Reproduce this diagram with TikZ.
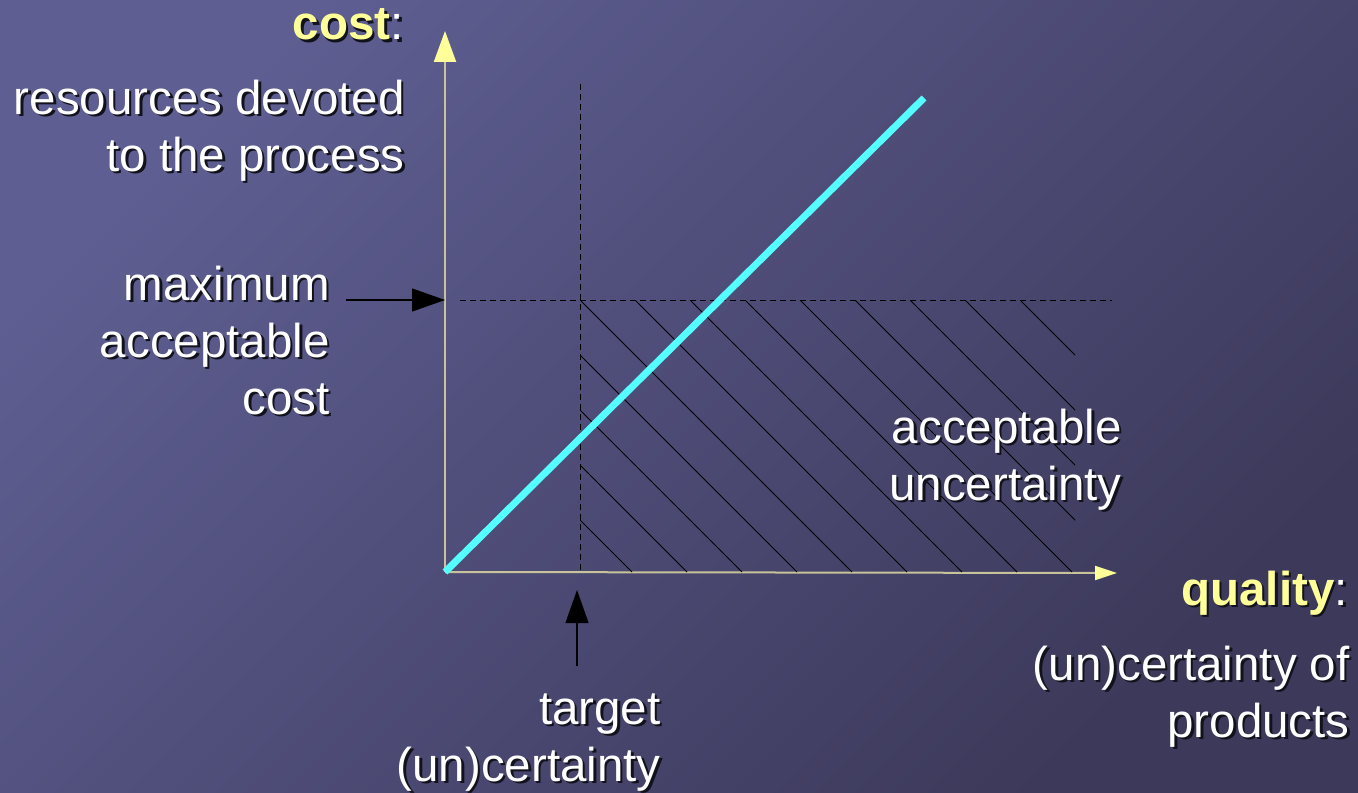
\documentclass[tikz,border=0pt]{standalone}
\usepackage{fontspec}
\setmainfont{Liberation Sans}
\usetikzlibrary{arrows.meta}
\definecolor{bgtl}{RGB}{94,94,146}
\definecolor{bgbr}{RGB}{60,57,90}
\definecolor{axisc}{RGB}{200,195,155}
\definecolor{tipc}{RGB}{255,255,153}
\definecolor{hlc}{RGB}{255,255,153}
\definecolor{linec}{RGB}{85,255,255}
\definecolor{shadowc}{RGB}{18,18,28}
\newcommand{\hl}[1]{\textcolor{hlc}{\textbf{#1}}}
\newcommand{\sh}[1]{\makebox[0pt][l]{\kern1.3pt\raisebox{-1.3pt}{\color{shadowc}\let\hl\textbf #1}}#1}
\tikzstyle{label}=[text=white, font=\fontsize{23.75}{28.5}\selectfont, inner sep=0pt, align=right]
\tikzstyle{axis}=[draw=axisc, line width=1pt]
\tikzstyle{guide}=[draw=black, line width=0.5pt, dash pattern=on 3pt off 2pt]
\tikzstyle{hatch}=[draw=black, line width=0.5pt]
\tikzstyle{pointer}=[draw=black, line width=0.6pt, -{Triangle[length=16.5pt,width=11.5pt]}]

\begin{document}
\begin{tikzpicture}[x=0.5pt, y=-0.5pt]
    \shade[top color=bgtl, bottom color=bgbr, shading angle=45] (0,0) rectangle (1358,792);
    \useasboundingbox (0,0) rectangle (1358,792);
    % axes
    \coordinate (O) at (445,572);
    \coordinate (ytip) at (445,31);
    \coordinate (xtip) at (1117,573);
    \draw[axis, -{Triangle[length=15.5pt,width=11pt,color=tipc]}] (O) -- (ytip);
    \draw[axis, -{Triangle[length=11pt,width=7pt,color=tipc]}] (O) -- (xtip);
    % acceptable region
    \begin{scope}
        \clip (580,300) rectangle (1075,572);
        \foreach \c in {60,115,...,720}
            \draw[hatch] ({\c+300},300) -- ({\c+572},572);
    \end{scope}
    \coordinate (T1) at (580,84);
    \coordinate (T2) at (580,572);
    \coordinate (M1) at (460,300);
    \coordinate (M2) at (1112,300);
    \draw[guide] (T1) -- (T2);
    \draw[guide] (M1) -- (M2);
    % cost vs quality
    \coordinate (C) at (924,98);
    \draw[linec, line width=3.5pt] (O) -- (C);
    % labels (base = last line)
    \node[label, anchor=base east] (costlbl) at (404,40) {\sh{\hl{cost}:}};
    \node[label, anchor=base east] (reslbl) at (405,171) {\sh{resources devoted}\\\sh{to the process}};
    \node[label, anchor=base east] (maxlbl) at (330,414) {\sh{maximum}\\\sh{acceptable}\\\sh{cost}};
    \node[label, anchor=base east] (acclbl) at (1122,500) {\sh{acceptable}\\\sh{uncertainty}};
    \node[label, anchor=base east] (qlbl) at (1348,605) {\sh{\hl{quality}:}};
    \node[label, anchor=base east] (unclbl) at (1350,737) {\sh{(un)certainty of}\\\sh{products}};
    \node[label, anchor=base east] (tgtlbl) at (661,781) {\sh{target}\\\sh{(un)certainty}};
    % pointers
    \coordinate (P1) at (346,300);
    \coordinate (P2) at (445,300);
    \coordinate (P3) at (577,666);
    \coordinate (P4) at (577,590);
    \draw[pointer] (P1) -- (P2);
    \draw[pointer] (P3) -- (P4);
\end{tikzpicture}
\end{document}
